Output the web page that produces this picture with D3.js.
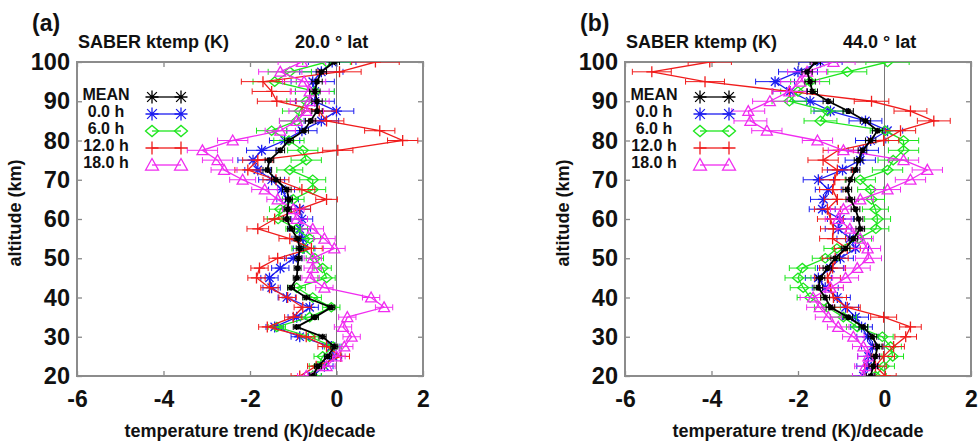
<!DOCTYPE html>
<html>
<head>
<meta charset="utf-8">
<script src="https://cdn.jsdelivr.net/npm/d3@7"></script>
<style>
body { margin: 0; background: #fff; }
svg text { font-family: "Liberation Sans", Arial, Helvetica, sans-serif; font-weight: bold; fill: #111; }
</style>
</head>
<body>
<svg id="chart" width="978" height="443"></svg>
<script>
// altitude levels (km), bottom to top
var altitudes = [20, 22.5, 25, 27.5, 30, 32.5, 35, 37.5, 40, 42.5, 45, 47.5, 50, 52.5, 55, 57.5, 60,
                 62.5, 65, 67.5, 70, 72.5, 75, 77.5, 80, 82.5, 85, 87.5, 90, 92.5, 95, 97.5, 100];
var seriesNames = ["MEAN", "0.0 h", "6.0 h", "12.0 h", "18.0 h"];
var xTicks = [-6, -4, -2, 0, 2];
var yTicks = [20, 30, 40, 50, 60, 70, 80, 90, 100];

// (a) 20.0 deg lat, trend K/decade
var meanA = [-0.55, -0.43, -0.2, -0.05, -0.32, -0.92, -0.5, -0.12, -0.7, -1.05, -0.92, -0.9, -0.88, -0.85, -0.9, -1.05, -1.15,
             -1.13, -1.1, -1.15, -1.4, -1.6, -1.55, -1.3, -1.1, -0.75, -0.6, -0.45, -0.45, -0.5, -0.45, -0.35, -0.05];
var h00A = [-0.55, -0.28, -0.08, -0.12, -0.85, -1.43, -0.92, -0.62, -1.15, -1.5, -1.55, -1.3, -1.0, -0.75, -0.78, -0.85, -0.8,
            -0.85, -1.13, -1.27, -1.5, -1.82, -1.93, -1.73, -1.2, -0.8, -0.35, 0.0, -0.5, -0.5, -0.55, -0.35, -0.1];
var h06A = [-0.55, -0.43, -0.32, -0.08, -0.62, -1.38, -0.62, -0.12, -0.55, -0.92, -0.23, -0.32, -0.5, -0.78, -0.62, -0.92, -1.35,
            -1.3, -1.0, -0.55, -0.55, -1.08, -0.7, -0.78, -1.1, -1.5, -0.92, -0.85, -0.7, -0.5, -1.43, -1.08, -0.23];
var h12A = [-0.85, -0.47, 0.1, -0.23, -0.7, -1.6, -1.0, -0.78, -1.13, -1.55, -1.85, -1.78, -1.36, -0.58, -1.08, -1.82, -1.43,
            -0.85, -0.23, -0.8, -1.4, -2.05, -1.82, 0.03, 1.53, 1.0, -0.23, -0.4, -1.38, -1.5, -1.7, 0.07, 0.9];
var h18A = [-0.7, -0.23, 0.0, 0.18, 0.35, 0.15, 0.25, 1.1, 0.8, -0.28, -0.6, -0.55, -0.55, -0.05, -0.28, -0.55, -0.92,
            -1.0, -1.36, -1.66, -2.17, -2.6, -2.75, -3.1, -2.4, -1.3, -0.92, -0.7, -0.62, -0.62, -0.75, -1.3, -0.8];
var errHourA = [0.2, 0.2, 0.2, 0.2, 0.2, 0.2, 0.2, 0.2, 0.2, 0.2, 0.2, 0.2, 0.2, 0.25, 0.25, 0.25, 0.25,
                0.25, 0.25, 0.3, 0.3, 0.3, 0.35, 0.35, 0.35, 0.35, 0.4, 0.4, 0.45, 0.45, 0.5, 0.5, 0.55];
var errMeanA = [0.08, 0.08, 0.08, 0.08, 0.08, 0.08, 0.08, 0.08, 0.08, 0.08, 0.08, 0.08, 0.08, 0.08, 0.08, 0.08, 0.08,
                0.08, 0.08, 0.1, 0.1, 0.1, 0.1, 0.1, 0.1, 0.1, 0.12, 0.12, 0.12, 0.12, 0.12, 0.12, 0.12];

// (b) 44.0 deg lat
var meanB = [-0.32, -0.26, -0.21, -0.16, -0.28, -0.49, -0.84, -1.25, -1.37, -1.53, -1.48, -1.32, -1.14, -0.9, -0.72, -0.56, -0.6,
             -0.67, -0.79, -0.86, -0.79, -0.67, -0.6, -0.51, -0.32, -0.16, -0.44, -0.84, -1.3, -1.67, -1.72, -1.79, -1.6];
var h00B = [-0.49, -0.39, -0.37, -0.28, -0.39, -0.53, -0.67, -0.9, -1.09, -1.37, -1.53, -1.25, -1.02, -0.67, -0.8, -1.07, -1.02,
            -1.44, -1.41, -1.3, -1.53, -0.97, -0.56, -0.49, -0.32, 0.07, -0.44, -1.25, -1.72, -2.18, -2.53, -2.0, -1.48];
var h06B = [-0.21, -0.02, 0.19, 0.14, -0.05, -0.63, -0.95, -1.32, -1.72, -1.88, -2.0, -1.9, -1.37, -1.1, -0.6, -0.2, -0.16,
            -0.21, -0.3, -0.32, -0.56, 0.07, 0.2, 0.44, 0.44, 0.02, -1.48, -1.32, -2.2, -2.0, -1.72, -0.86, 0.07];
var h12B = [0.02, -0.21, -0.02, 0.21, 0.49, 0.6, -0.02, -0.86, -1.18, -1.25, -1.32, -1.2, -1.14, -0.86, -1.2, -1.18, -1.25,
            -1.32, -1.09, -1.2, -1.15, -1.09, -1.42, -1.07, -0.02, 0.37, 1.14, 0.6, -0.3, -2.2, -4.15, -5.38, -4.04];
var h18B = [-0.49, -0.44, -0.37, -0.49, -0.72, -1.07, -1.3, -1.5, -1.65, -1.25, -0.9, -0.63, -0.37, -0.39, -0.56, -0.8, -1.07,
            -0.95, -0.56, 0.07, 0.6, 0.99, 0.44, -0.95, -1.55, -2.72, -3.1, -3.15, -2.65, -2.2, -1.95, -1.79, -1.18];
var errHourB = [0.25, 0.25, 0.25, 0.25, 0.25, 0.25, 0.3, 0.3, 0.3, 0.3, 0.3, 0.3, 0.3, 0.3, 0.3, 0.3, 0.3,
                0.3, 0.3, 0.3, 0.35, 0.35, 0.35, 0.35, 0.35, 0.35, 0.38, 0.38, 0.4, 0.4, 0.45, 0.45, 0.5];
var errMeanB = [0.1, 0.1, 0.1, 0.1, 0.1, 0.1, 0.1, 0.1, 0.1, 0.1, 0.1, 0.1, 0.1, 0.1, 0.1, 0.1, 0.1,
                0.1, 0.1, 0.1, 0.1, 0.1, 0.1, 0.1, 0.12, 0.12, 0.12, 0.12, 0.12, 0.12, 0.12, 0.12, 0.12];

// styles, indexed like seriesNames
var colors = ["#000000", "#1c1cf0", "#1ee61e", "#f01c1c", "#f02cf0"];
var markers = ["asterisk", "asterisk", "diamond", "plus", "triangle"];

var svg = d3.select("#chart");
var plotW = 346, plotTop = 62, plotBottom = 376;

function markerPath(type, r) {
  var p = d3.path();
  if (type == "asterisk") {
    var d = r * 0.75;
    p.moveTo(-r, 0); p.lineTo(r, 0);
    p.moveTo(0, -r); p.lineTo(0, r);
    p.moveTo(-d, -d); p.lineTo(d, d);
    p.moveTo(-d, d); p.lineTo(d, -d);
  } else if (type == "plus") {
    p.moveTo(-r, 0); p.lineTo(r, 0);
    p.moveTo(0, -r); p.lineTo(0, r);
  } else if (type == "diamond") {
    p.moveTo(-r, 0); p.lineTo(0, -r * 0.85); p.lineTo(r, 0); p.lineTo(0, r * 0.85); p.closePath();
  } else if (type == "triangle") {
    p.moveTo(-r, r * 0.8); p.lineTo(0, -r); p.lineTo(r, r * 0.8); p.closePath();
  }
  return p.toString();
}

function drawPanel(left, letter, latText, series, errHour, errMean, clipId) {
  var x = d3.scaleLinear().domain([-6, 2]).range([left, left + plotW]);
  var y = d3.scaleLinear().domain([20, 100]).range([plotBottom, plotTop]);
  var g = svg.append("g");

  g.append("clipPath").attr("id", clipId)
    .append("rect").attr("x", left).attr("y", plotTop).attr("width", plotW).attr("height", plotBottom - plotTop);

  // zero line
  g.append("line")
    .attr("x1", x(0)).attr("x2", x(0)).attr("y1", plotTop).attr("y2", plotBottom)
    .attr("stroke", "#777").attr("stroke-width", 1);

  // axes
  var ax = g.append("g").attr("transform", "translate(" + left + ",0)")
    .call(d3.axisLeft(y).tickValues(yTicks).tickSize(-5).tickSizeOuter(0).tickPadding(7));
  ax.selectAll("text").style("font-size", "23.5px");
  var ax2 = g.append("g").attr("transform", "translate(" + (left + plotW) + ",0)")
    .call(d3.axisRight(y).tickValues(yTicks).tickSize(-5).tickSizeOuter(0).tickFormat(""));
  var ax3 = g.append("g").attr("transform", "translate(0," + plotBottom + ")")
    .call(d3.axisBottom(x).tickValues(xTicks).tickSize(-5).tickSizeOuter(0).tickPadding(15)
      .tickFormat(function(d) { return String(d); }));
  ax3.selectAll("text").style("font-size", "23px");
  var ax4 = g.append("g").attr("transform", "translate(0," + plotTop + ")")
    .call(d3.axisTop(x).tickValues(xTicks).tickSize(-5).tickSizeOuter(0).tickFormat(""));
  [ax, ax2, ax3, ax4].forEach(function(a) {
    a.select(".domain").remove();
    a.selectAll("line").attr("stroke", "#888").attr("stroke-width", 1.3);
    a.selectAll("text").attr("fill", "#111");
  });

  // frame
  g.append("rect").attr("x", left).attr("y", plotTop).attr("width", plotW).attr("height", plotBottom - plotTop)
    .attr("fill", "none").attr("stroke", "#8c8c8c").attr("stroke-width", 2);

  // data, hourly series first, mean on top
  var order = [1, 2, 3, 4, 0];
  var data = g.append("g").attr("clip-path", "url(#" + clipId + ")");
  var line = d3.line().x(function(d) { return x(d.v); }).y(function(d) { return y(d.a); });
  order.forEach(function(k) {
    var err = k == 0 ? errMean : errHour;
    var pts = series[k].map(function(v, i) { return {v: v, a: altitudes[i], e: err[i]}; });
    var sg = data.append("g").attr("stroke", colors[k]).attr("fill", "none").attr("stroke-width", k == 0 ? 1.8 : 1.3);
    sg.append("path").attr("d", line(pts));
    sg.selectAll(".eb").data(pts).enter().append("path")
      .attr("d", function(d) {
        var x0 = x(d.v - d.e), x1 = x(d.v + d.e), yy = y(d.a);
        return "M" + x0 + "," + yy + "H" + x1 +
               "M" + x0 + "," + (yy - 3) + "V" + (yy + 3) +
               "M" + x1 + "," + (yy - 3) + "V" + (yy + 3);
      })
      .attr("stroke-width", 1);
    sg.selectAll(".mk").data(pts).enter().append("path")
      .attr("transform", function(d) { return "translate(" + x(d.v) + "," + y(d.a) + ")"; })
      .attr("d", markerPath(markers[k], k == 0 ? 3 : 5.5))
      .attr("stroke-width", k == 0 ? 1.6 : 1.3);
  });

  // legend
  var rows = [97, 114, 131, 148, 165];
  seriesNames.forEach(function(name, k) {
    g.append("text").attr("x", left + 29).attr("y", rows[k] + 3)
      .attr("text-anchor", "middle").style("font-size", "16px").text(name);
    var lg = g.append("g").attr("stroke", colors[k]).attr("fill", "none").attr("stroke-width", 1.3);
    lg.append("line").attr("x1", left + 75).attr("x2", left + 104).attr("y1", rows[k]).attr("y2", rows[k]);
    [left + 75, left + 104].forEach(function(mx) {
      lg.append("path").attr("transform", "translate(" + mx + "," + rows[k] + ")")
        .attr("d", markerPath(markers[k], 6.5));
    });
  });

  // titles
  g.append("text").attr("x", left - 45).attr("y", 31).style("font-size", "23px").text(letter);
  g.append("text").attr("x", left + 1).attr("y", 48).style("font-size", "18px").text("SABER ktemp (K)");
  g.append("text").attr("x", left + 218).attr("y", 48).style("font-size", "18px").text(latText);
  g.append("text").attr("x", left + 173).attr("y", 437).attr("text-anchor", "middle")
    .style("font-size", "18px").text("temperature trend (K)/decade");
  g.append("text").attr("transform", "translate(" + (left - 56) + ",213) rotate(-90)")
    .attr("text-anchor", "middle").style("font-size", "18px").text("altitude (km)");
}

drawPanel(77, "(a)", "20.0 \u00B0 lat", [meanA, h00A, h06A, h12A, h18A], errHourA, errMeanA, "clipA");
drawPanel(625, "(b)", "44.0 \u00B0 lat", [meanB, h00B, h06B, h12B, h18B], errHourB, errMeanB, "clipB");
</script>
</body>
</html>
